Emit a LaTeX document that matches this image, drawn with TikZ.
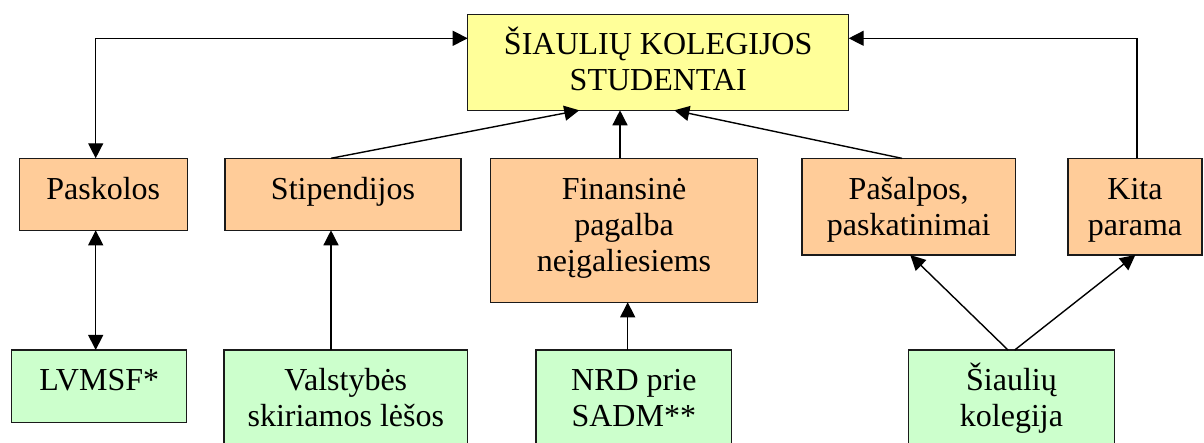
\documentclass[tikz,border=0pt]{standalone}
\usepackage{fontspec}
\setmainfont{LiberationSerif}[Extension=.ttf, UprightFont=*-Regular, BoldFont=*-Bold, ItalicFont=*-Italic, BoldItalicFont=*-BoldItalic]
\usetikzlibrary{arrows.meta}
\definecolor{topfill}{HTML}{FFFF99}
\definecolor{midfill}{HTML}{FFCC99}
\definecolor{lowfill}{HTML}{CCFFCC}
\definecolor{edgec}{HTML}{1A1A1A}
\tikzset{
  boxbase/.style={draw=edgec, line width=1.2pt, rectangle, inner sep=0pt, outer sep=0pt},
  topbox/.style={boxbase, fill=topfill},
  midbox/.style={boxbase, fill=midfill},
  lowbox/.style={boxbase, fill=lowfill},
  boxtext/.style={anchor=base, inner sep=0pt, outer sep=0pt, font=\fontsize{32}{36}\selectfont},
  conn/.style={line width=1.4pt, black},
  tip/.style={-{Triangle[length=15pt,width=15pt]}},
  tips/.style={{Triangle[length=15pt,width=15pt]}-{Triangle[length=15pt,width=15pt]}}
}
\newcommand{\boxlines}[1]{\begin{tabular}[t]{@{}c@{}}#1\end{tabular}}
\begin{document}
\begin{tikzpicture}[x=1pt,y=-1pt]
\useasboundingbox (0,0) rectangle (1204,443);
\clip (0,0) rectangle (1204,443);
% boxes
\node[topbox, minimum width=381pt, minimum height=96pt] (top) at (658.2,62.3) {};
\node[midbox, minimum width=168pt, minimum height=72pt] (pask) at (103.3,194.3) {};
\node[midbox, minimum width=236pt, minimum height=72pt] (stip) at (343,194.3) {};
\node[midbox, minimum width=266.6pt, minimum height=144pt] (fin) at (624,230.3) {};
\node[midbox, minimum width=213.3pt, minimum height=96.7pt] (pasal) at (908.7,206.7) {};
\node[midbox, minimum width=134pt, minimum height=96.7pt] (kita) at (1135,206.7) {};
\node[lowbox, minimum width=175pt, minimum height=72.7pt] (lvmsf) at (99.2,386.3) {};
\node[lowbox, minimum width=243.7pt, minimum height=110pt] (valst) at (345.8,405) {};
\node[lowbox, minimum width=195.7pt, minimum height=110pt] (nrd) at (633.8,405) {};
\node[lowbox, minimum width=205.6pt, minimum height=110pt] (sk) at (1011.5,405) {};
% texts
\node[boxtext] (ttop) at ([yshift=-40.7pt]top.north) {\boxlines{ŠIAULIŲ KOLEGIJOS\\STUDENTAI}};
\node[boxtext] (tpask) at ([yshift=-41pt]pask.north) {\boxlines{Paskolos}};
\node[boxtext] (tstip) at ([yshift=-41pt]stip.north) {\boxlines{Stipendijos}};
\node[boxtext] (tfin) at ([yshift=-41pt]fin.north) {\boxlines{Finansinė\\pagalba\\neįgaliesiems}};
\node[boxtext] (tpasal) at ([yshift=-41pt]pasal.north) {\boxlines{Pašalpos,\\paskatinimai}};
\node[boxtext] (tkita) at ([yshift=-41pt]kita.north) {\boxlines{Kita\\parama}};
\node[boxtext] (tlvmsf) at ([yshift=-40.7pt]lvmsf.north) {\boxlines{LVMSF*}};
\node[boxtext] (tvalst) at ([yshift=-40.7pt]valst.north) {\boxlines{Valstybės\\skiriamos lėšos}};
\node[boxtext] (tnrd) at ([yshift=-40.7pt]nrd.north) {\boxlines{NRD prie\\SADM**}};
\node[boxtext] (tsk) at ([yshift=-40.7pt]sk.north) {\boxlines{Šiaulių\\kolegija}};
% connectors
\draw[conn, tips] ([yshift=24pt]top.west) -| ([xshift=-7.6pt]pask.north);
\draw[conn, tips] ([xshift=-7.6pt]pask.south) -- ([xshift=-7.6pt]pask.south |- lvmsf.north);
\draw[conn, tip] ([xshift=-12pt]stip.north) -- ([xshift=-78.9pt]top.south);
\draw[conn, tip] ([xshift=-4pt]fin.north) -- ([xshift=-4pt]fin.north |- top.south);
\draw[conn, tip] ([xshift=-6.7pt]pasal.north) -- ([xshift=16.1pt]top.south);
\draw[conn, tip] ([xshift=2pt]kita.north) |- ([yshift=24pt]top.east);
\draw[conn, tip] ([xshift=-14.8pt]valst.north) -- ([xshift=-14.8pt]valst.north |- stip.south);
\draw[conn, tip] ([xshift=-6.1pt]nrd.north) -- ([xshift=-6.1pt]nrd.north |- fin.south);
\draw[conn, tip] ([xshift=-3.5pt]sk.north) -- ([xshift=1.6pt]pasal.south);
\draw[conn, tip] ([xshift=3.2pt]sk.north) -- ([xshift=0.3pt]kita.south);
\end{tikzpicture}
\end{document}
